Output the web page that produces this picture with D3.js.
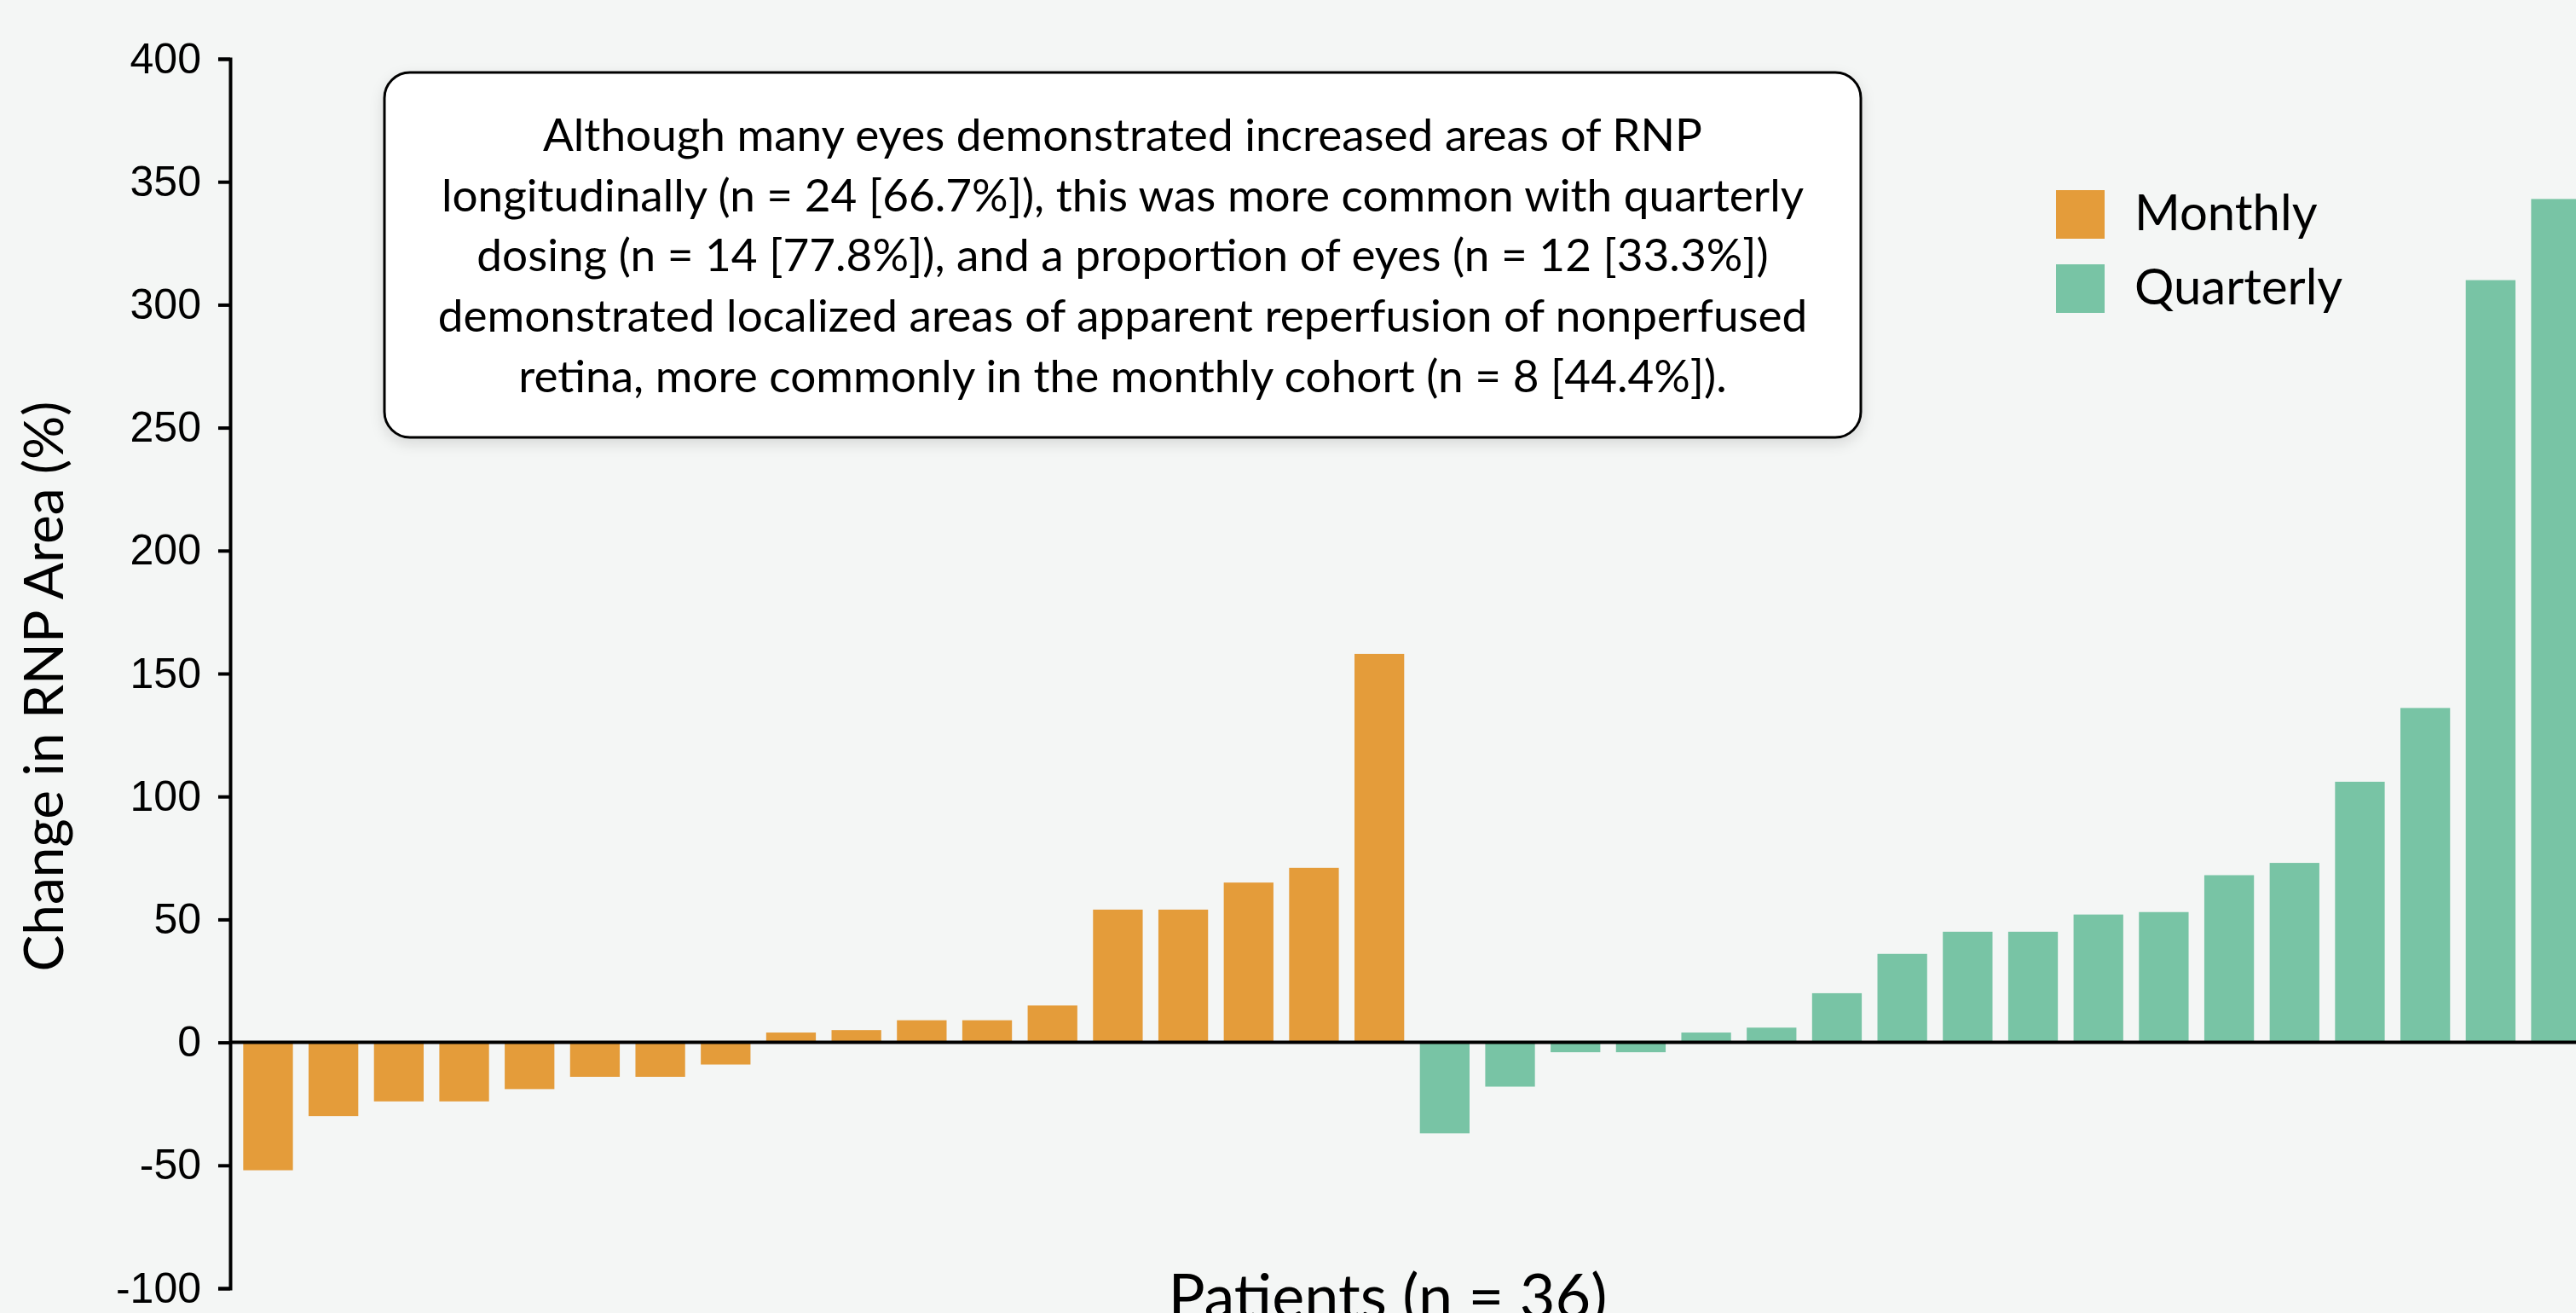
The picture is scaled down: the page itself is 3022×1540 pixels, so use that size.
<!DOCTYPE html>
<meta charset="utf-8">
<style>
  body { margin: 0; background: #f4f6f5; }
  svg { display: block; font-family: Lato, "Noto Sans", sans-serif; }
  .tick text { font-size: 50px; fill: #000; }
</style>
<body>
<div id="chart"></div>
<script src="https://d3js.org/d3.v7.min.js"></script>
<script>
  var monthly = [-52, -30, -24, -24, -19, -14, -14, -9, 4, 5, 9, 9, 15, 54, 54, 65, 71, 158];
  var quarterly = [-37, -18, -4, -4, 4, 6, 20, 36, 45, 45, 52, 53, 68, 73, 106, 136, 310, 343];
  var groups = ["Monthly", "Quarterly"];
  var colors = ["#e49c3a", "#78c4a5"];
  var yTicks = [-100, -50, 0, 50, 100, 150, 200, 250, 300, 350, 400];
  var note = [
    "Although many eyes demonstrated increased areas of RNP",
    "longitudinally (n = 24 [66.7%]), this was more common with quarterly",
    "dosing (n = 14 [77.8%]), and a proportion of eyes (n = 12 [33.3%])",
    "demonstrated localized areas of apparent reperfusion of nonperfused",
    "retina, more commonly in the monthly cohort (n = 8 [44.4%])."
  ];

  var W = 3022, H = 1540;
  var rows = monthly.map(function (v, i) { return {id: i, group: 0, value: v}; })
    .concat(quarterly.map(function (v, i) { return {id: monthly.length + i, group: 1, value: v}; }));

  var svg = d3.select("#chart").append("svg")
    .attr("width", W).attr("height", H);

  var defs = svg.append("defs");
  var f = defs.append("filter").attr("id", "shadow")
    .attr("x", "-5%").attr("y", "-10%").attr("width", "110%").attr("height", "125%");
  f.append("feDropShadow").attr("dx", 0).attr("dy", 6).attr("stdDeviation", 8)
    .attr("flood-color", "#000").attr("flood-opacity", 0.12);

  var x = d3.scaleBand()
    .domain(rows.map(function (d) { return d.id; }))
    .range([270, 3043])
    .paddingInner(0.24)
    .paddingOuter(0.2);

  var y = d3.scaleLinear().domain([-100, 400]).range([1511, 69]);

  // bars
  svg.selectAll("rect.bar").data(rows).enter()
    .append("rect")
    .attr("class", "bar")
    .attr("x", function (d) { return x(d.id); })
    .attr("width", x.bandwidth())
    .attr("y", function (d) { return y(Math.max(0, d.value)); })
    .attr("height", function (d) { return Math.abs(y(d.value) - y(0)); })
    .attr("fill", function (d) { return colors[d.group]; });

  // zero line
  svg.append("line")
    .attr("x1", 270).attr("x2", W)
    .attr("y1", y(0)).attr("y2", y(0))
    .attr("stroke", "#000").attr("stroke-width", 4);

  // y axis (plain hyphen for negatives, like the original)
  var yAxis = svg.append("g")
    .attr("transform", "translate(270,0)")
    .call(d3.axisLeft(y).tickValues(yTicks).tickSize(14).tickPadding(20)
      .tickFormat(function (d) { return String(d); }));
  yAxis.select(".domain").attr("stroke-width", 4);
  yAxis.selectAll(".tick line").attr("stroke-width", 4);

  svg.append("text")
    .attr("transform", "translate(52," + 805 + ") rotate(-90)")
    .attr("text-anchor", "middle")
    .attr("dy", "0.35em")
    .style("font-size", "64px")
    .text("Change in RNP Area (%)");

  svg.append("text")
    .attr("x", 1628).attr("y", 1546)
    .attr("text-anchor", "middle")
    .style("font-size", "72px")
    .text("Patients (n = 36)");

  // note box
  svg.append("rect")
    .attr("x", 451).attr("y", 85)
    .attr("width", 2183 - 451).attr("height", 513 - 85)
    .attr("rx", 30).attr("ry", 30)
    .attr("fill", "#fff")
    .attr("stroke", "#000").attr("stroke-width", 3)
    .attr("filter", "url(#shadow)");

  var noteText = svg.append("g").selectAll("text").data(note).enter()
    .append("text")
    .attr("x", 1317)
    .attr("y", function (d, i) { return 177 + i * 70.7; })
    .attr("text-anchor", "middle")
    .style("font-size", "44px")
    .text(function (d) { return d; });
  var w4 = noteText.nodes()[3].getComputedTextLength();
  noteText.style("font-size", (44 * 1607 / w4) + "px");

  // legend
  var legend = svg.append("g").selectAll("g").data(groups).enter()
    .append("g")
    .attr("transform", function (d, i) { return "translate(2412," + (223 + i * 87) + ")"; });
  legend.append("rect")
    .attr("width", 57).attr("height", 57)
    .attr("fill", function (d, i) { return colors[i]; });
  legend.append("text")
    .attr("x", 92).attr("y", 47)
    .style("font-size", "58px")
    .text(function (d) { return d; });
</script>
</body>
